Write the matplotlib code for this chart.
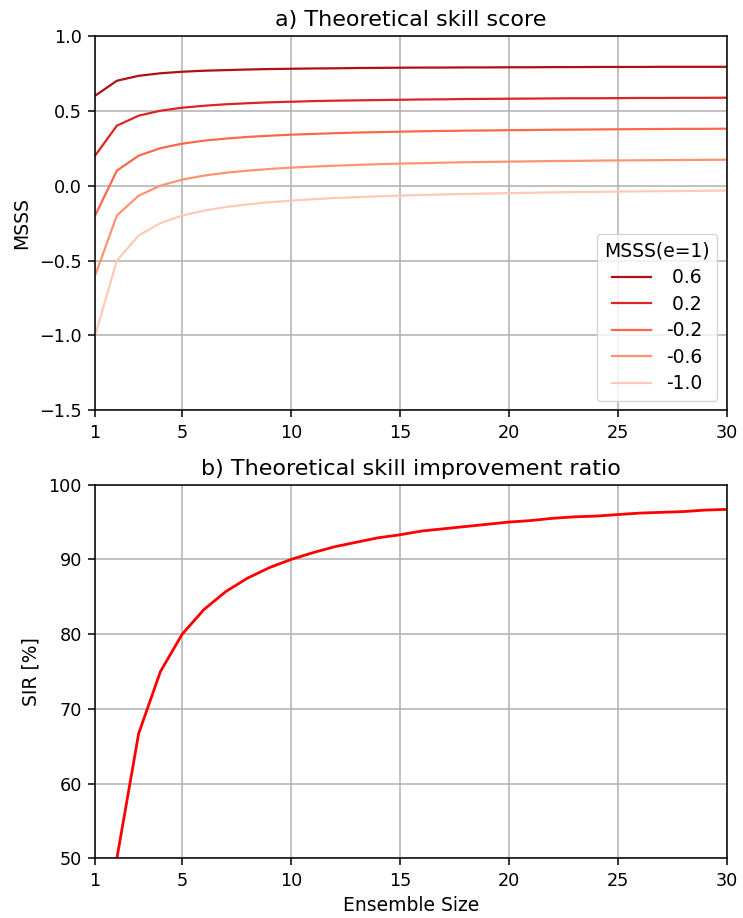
import matplotlib
matplotlib.use("Agg")
import matplotlib.pyplot as plt
import numpy as np

ensemble_size = list(range(1, 31))
msss_e1_labels = [" 0.6", " 0.2", "-0.2", "-0.6", "-1.0"]

msss_06 = [0.600, 0.700, 0.733, 0.750, 0.760, 0.767, 0.771, 0.775, 0.778, 0.780,
           0.782, 0.783, 0.785, 0.786, 0.787, 0.788, 0.788, 0.789, 0.789, 0.790,
           0.790, 0.791, 0.791, 0.792, 0.792, 0.792, 0.793, 0.793, 0.793, 0.793]
msss_02 = [0.200, 0.400, 0.467, 0.500, 0.520, 0.533, 0.543, 0.550, 0.556, 0.560,
           0.564, 0.567, 0.569, 0.571, 0.573, 0.575, 0.576, 0.578, 0.579, 0.580,
           0.581, 0.582, 0.583, 0.583, 0.584, 0.585, 0.585, 0.586, 0.586, 0.587]
msss_m02 = [-0.200, 0.100, 0.200, 0.250, 0.280, 0.300, 0.314, 0.325, 0.333, 0.340,
            0.345, 0.350, 0.354, 0.357, 0.360, 0.363, 0.365, 0.367, 0.368, 0.370,
            0.371, 0.373, 0.374, 0.375, 0.376, 0.377, 0.378, 0.379, 0.379, 0.380]
msss_m06 = [-0.600, -0.200, -0.067, 0.000, 0.040, 0.067, 0.086, 0.100, 0.111, 0.120,
            0.127, 0.133, 0.138, 0.143, 0.147, 0.150, 0.153, 0.156, 0.158, 0.160,
            0.162, 0.164, 0.165, 0.167, 0.168, 0.169, 0.170, 0.171, 0.172, 0.173]
msss_m10 = [-1.000, -0.500, -0.333, -0.250, -0.200, -0.167, -0.143, -0.125, -0.111, -0.100,
            -0.091, -0.083, -0.077, -0.071, -0.067, -0.063, -0.059, -0.056, -0.053, -0.050,
            -0.048, -0.045, -0.043, -0.042, -0.040, -0.038, -0.037, -0.036, -0.034, -0.033]

sir_percent = [0.0, 50.0, 66.7, 75.0, 80.0, 83.3, 85.7, 87.5, 88.9, 90.0,
               90.9, 91.7, 92.3, 92.9, 93.3, 93.8, 94.1, 94.4, 94.7, 95.0,
               95.2, 95.5, 95.7, 95.8, 96.0, 96.2, 96.3, 96.4, 96.6, 96.7]

xticks = [1, 5, 10, 15, 20, 25, 30]

plt.rcParams['font.family'] = ['DejaVu Sans']
plt.rcParams['axes.linewidth'] = 1.1
plt.rcParams['xtick.major.size'] = 5.0
plt.rcParams['ytick.major.size'] = 5.0
plt.rcParams['xtick.major.width'] = 1.1
plt.rcParams['ytick.major.width'] = 1.1
plt.rcParams['xtick.major.pad'] = 4.5
plt.rcParams['ytick.major.pad'] = 4.5

fig = plt.figure(figsize=(7.43, 9.18), dpi=100)
ax1 = fig.add_axes([0.128, 0.553, 0.850, 0.408])
ax2 = fig.add_axes([0.128, 0.065, 0.850, 0.407])

series = [msss_06, msss_02, msss_m02, msss_m06, msss_m10]
cmap = plt.cm.Reds
colors = [cmap(v) for v in [0.85, 0.7, 0.5, 0.37, 0.2]]
for s, lab, c in zip(series, msss_e1_labels, colors):
    ax1.plot(ensemble_size, s, color=c, lw=1.6, label=lab)
ax1.set_xlim(1, 30)
ax1.set_ylim(-1.5, 1.0)
ax1.set_xticks(xticks)
ax1.set_yticks([-1.5, -1.0, -0.5, 0.0, 0.5, 1.0])
ax1.grid(True, color='#b0b0b0', lw=1.1)
ax1.set_ylabel('MSSS', fontsize=13.5, labelpad=6)
ax1.set_title('a) Theoretical skill score', fontsize=16, pad=7)
ax1.tick_params(labelsize=12.7)
leg = ax1.legend(title='MSSS(e=1)', loc='lower right', fontsize=13.5, title_fontsize=13.5,
                 labelspacing=0.4, handlelength=2.1, borderaxespad=0.5)

ax2.plot(ensemble_size, sir_percent, color='red', lw=2)
ax2.set_xlim(1, 30)
ax2.set_ylim(50, 100)
ax2.set_xticks(xticks)
ax2.set_yticks([50, 60, 70, 80, 90, 100])
ax2.grid(True, color='#b0b0b0', lw=1.1)
ax2.set_ylabel('SIR [%]', fontsize=13.5, labelpad=6)
ax2.set_xlabel('Ensemble Size', fontsize=13.5, labelpad=5)
ax2.set_title('b) Theoretical skill improvement ratio', fontsize=16, pad=7)
ax2.tick_params(labelsize=12.7)

fig.savefig('out.png', dpi=100)
